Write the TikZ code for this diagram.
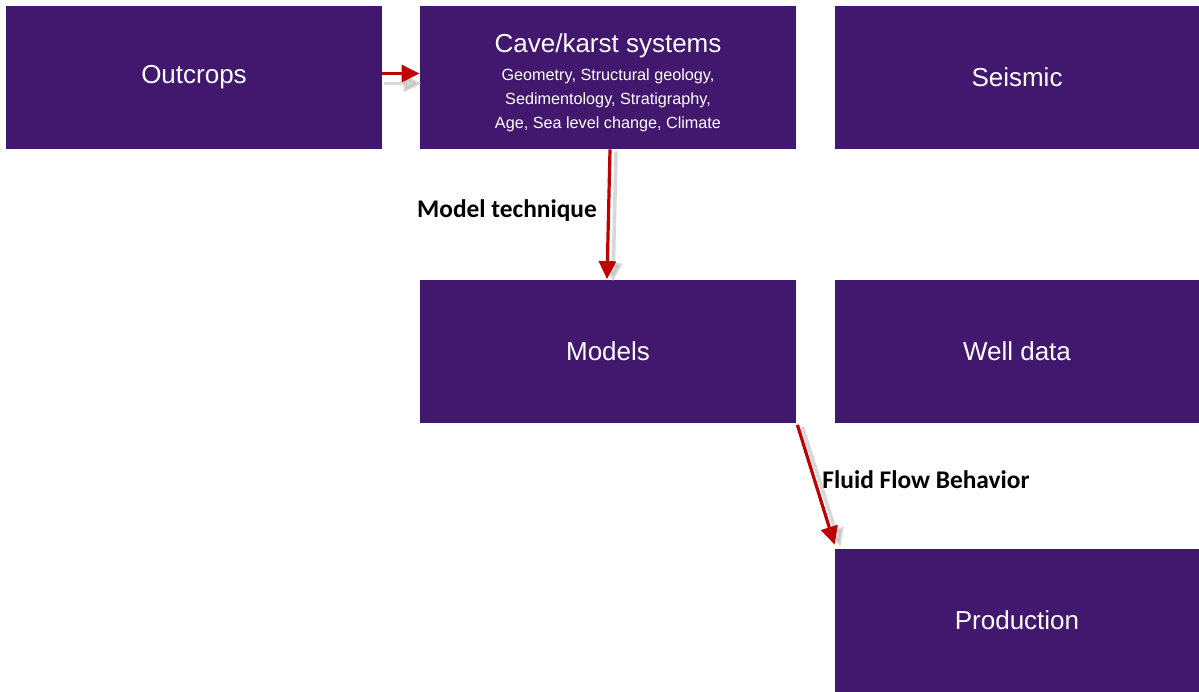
\documentclass[tikz,border=0pt]{standalone}
\usepackage{fontspec}
\setmainfont{Liberation Sans}
\newfontfamily\calibri{Carlito}
\usetikzlibrary{arrows.meta}
\definecolor{boxpurple}{HTML}{42186E}
\definecolor{arrowred}{HTML}{C00000}
\newcommand{\subfont}{\fontsize{8.1}{12}\selectfont}
\begin{document}
\begin{tikzpicture}[x=0.5pt,y=-0.5pt,
  box/.style={rectangle,fill=boxpurple,text=white,minimum height=71.5pt,
    inner sep=0pt,align=center,font=\fontsize{13}{12}\selectfont},
  flow/.style={draw=arrowred,line width=1.6pt,
    -{Triangle[length=9pt,width=8.5pt]}},
  flowshadow/.style={draw=black!30,opacity=0.5,line width=1.8pt,
    -{Triangle[length=9pt,width=8.5pt]}},
  lbl/.style={font=\calibri\bfseries\fontsize{12.7}{14}\selectfont}]
\useasboundingbox (0,0) rectangle (1199,691);

\node[box,minimum width=188pt] (outcrops) at (194,77.5) {Outcrops};
\node[box,minimum width=188pt] (cave) at (608,77.5)
  {\rule{0pt}{14.5pt}Cave/karst systems\\[2pt]
   \subfont Geometry, Structural geology,\\
   \subfont Sedimentology, Stratigraphy,\\
   \subfont Age, Sea level change, Climate};
\node[box,minimum width=182pt] (seismic) at (1017,77.5) {Seismic};
\node[box,minimum width=188pt] (models) at (608,351) {Models};
\node[box,minimum width=182pt] (well) at (1017,351) {Well data};
\node[box,minimum width=182pt] (production) at (1017,620.5) {Production};

% shadows
\draw[flowshadow] ([xshift=1pt,yshift=-3pt]outcrops.east) -- ([xshift=1pt,yshift=-3pt]cave.west);
\draw[flowshadow] ([xshift=4pt,yshift=-1pt]cave.south) -- ([xshift=2.5pt,yshift=-1pt]models.north);
\draw[flowshadow] ([xshift=3pt,yshift=-2pt]models.south east) -- ([xshift=3pt,yshift=1pt]production.north west);

% arrows
\draw[flow] ([yshift=2pt]outcrops.east) -- ([yshift=2pt]cave.west);
\draw[flow] ([xshift=1pt]cave.south) -- ([xshift=-0.5pt]models.north);
\draw[flow] ([xshift=0.5pt,yshift=-1pt]models.south east) -- ([yshift=2pt]production.north west);

\node[lbl] (technique) at (507,211) {Model technique};
\node[lbl] (fluid) at (926,480) {Fluid Flow Behavior};
\end{tikzpicture}
\end{document}
